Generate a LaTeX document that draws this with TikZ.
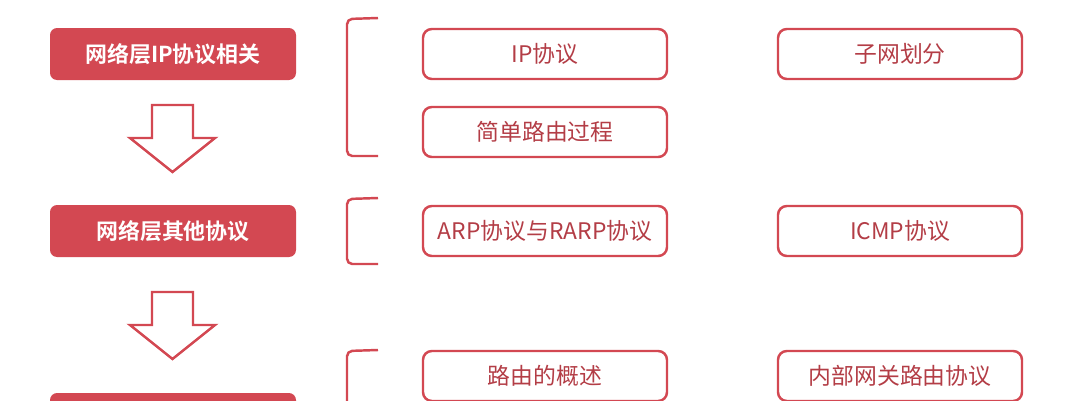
\documentclass[tikz,border=0pt]{standalone}
\usepackage{fontspec}
\newfontfamily\cjk{Noto Sans CJK SC}
\newfontfamily\cjkbold{Noto Sans CJK SC Bold}
\definecolor{netred}{RGB}{211,72,82}
\tikzset{
    stage/.style={fill=netred, rounded corners=4pt, minimum width=246\pxu, minimum height=52\pxu, text=white, font=\cjkbold\fontsize{12.5}{14}\selectfont},
    topic/.style={draw=netred, line width=1.4pt, rounded corners=5pt, minimum width=244\pxu, minimum height=50\pxu, text=netred!85!black, font=\cjk\fontsize{13}{15}\selectfont},
    brace/.style={draw=netred, line width=1.4pt, rounded corners=3pt},
    hollow/.style={draw=netred, line width=1.4pt, fill=white}
}
\newlength{\pxu}
\setlength{\pxu}{0.02cm}
\begin{document}
\begin{tikzpicture}[x=0.02cm, y=-0.02cm]
    \useasboundingbox (0,0) rectangle (1083,400);
    \clip (0,0) rectangle (1083,400);

    % Left stages
    \node[stage] (ip) at (173,54) {网络层IP协议相关};
    \node[stage] (other) at (173,231) {网络层其他协议};
    \node[stage] (route) at (173,419) {};

    % Hollow arrows
    \foreach \y in {105,292} {
        \draw[hollow] (152,\y) -- (193,\y) -- (193,\y+33) -- (215,\y+33) -- (172.5,\y+67)
            -- (130,\y+33) -- (152,\y+33) -- cycle;
    }

    % Brackets
    \draw[brace] (378,18) -- (347,19) -- (347,156) -- (378,156);
    \draw[brace] (378,198) -- (347,199) -- (347,264) -- (378,264);
    \draw[brace] (378,350) -- (347,351) -- (347,410);

    % Topics
    \node[topic] (ipp) at (545,54) {IP协议};
    \node[topic] (subnet) at (900,54) {子网划分};
    \node[topic] (simple) at (545,132) {简单路由过程};
    \node[topic] (arp) at (545,231) {ARP协议与RARP协议};
    \node[topic] (icmp) at (900,231) {ICMP协议};
    \node[topic] (overview) at (545,376) {路由的概述};
    \node[topic] (igp) at (900,376) {内部网关路由协议};
\end{tikzpicture}
\end{document}
